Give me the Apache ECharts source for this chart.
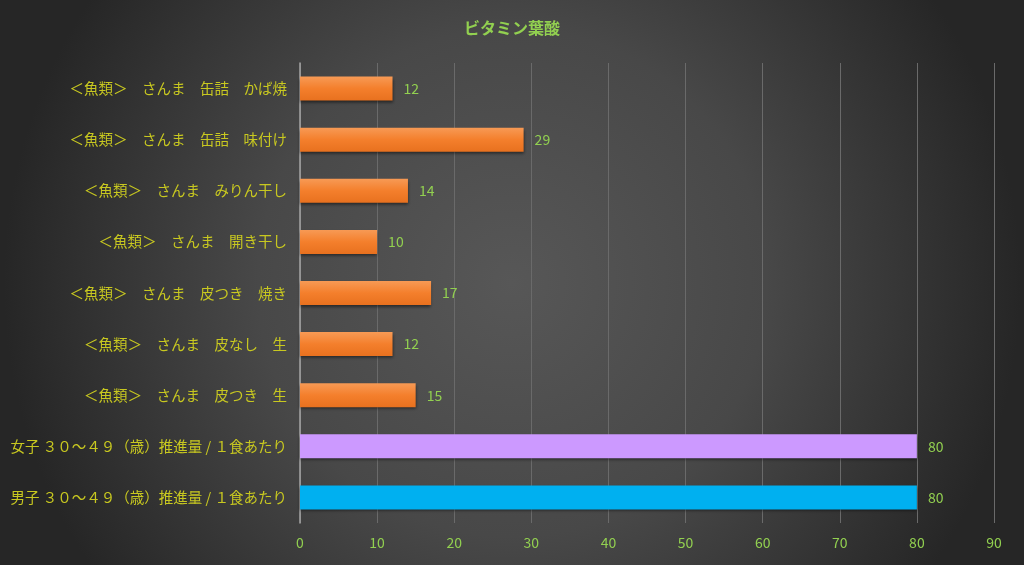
<!DOCTYPE html>
<html>
<head>
<meta charset="utf-8">
<script src="https://cdn.jsdelivr.net/npm/echarts@6/dist/echarts.min.js"></script>
<style>
  html, body { margin: 0; padding: 0; }
  #chart { width: 1024px; height: 565px; }
</style>
</head>
<body>
<div id="chart"></div>
<script>
// top to bottom
const categories = [
  '＜魚類＞　さんま　缶詰　かば焼',
  '＜魚類＞　さんま　缶詰　味付け',
  '＜魚類＞　さんま　みりん干し',
  '＜魚類＞　さんま　開き干し',
  '＜魚類＞　さんま　皮つき　焼き',
  '＜魚類＞　さんま　皮なし　生',
  '＜魚類＞　さんま　皮つき　生',
  '女子 ３０～４９（歳）推進量 / １食あたり',
  '男子 ３０～４９（歳）推進量 / １食あたり'
]
const values = [12, 29, 14, 10, 17, 12, 15, 80, 80]
const barColors = ['orange', 'orange', 'orange', 'orange', 'orange', 'orange', 'orange', '#cc99ff', '#00b0f0']

const orangeFill = new echarts.graphic.LinearGradient(0, 0, 0, 1, [
  { offset: 0, color: '#f79a55' },
  { offset: 0.5, color: '#f47f2c' },
  { offset: 1, color: '#e8711f' }
])

const chart = echarts.init(document.getElementById('chart'))
chart.setOption({
  backgroundColor: new echarts.graphic.RadialGradient(0.5, 0.5, 0.9, [
    { offset: 0, color: '#575757' },
    { offset: 0.5, color: '#484848' },
    { offset: 1, color: '#262626' }
  ]),
  textStyle: { fontFamily: 'Noto Sans CJK JP' },
  title: {
    text: 'ビタミン葉酸',
    left: 'center',
    top: 15,
    textStyle: {
      color: '#92d050',
      fontSize: 16,
      fontWeight: 'bold',
      fontFamily: 'Noto Sans CJK JP'
    }
  },
  grid: { left: 300, right: 30, top: 63, bottom: 42, containLabel: false },
  xAxis: {
    type: 'value',
    min: 0,
    max: 90,
    interval: 10,
    axisLine: { show: false },
    axisTick: { show: false },
    axisLabel: { color: '#92d050', fontSize: 14, margin: 13 },
    splitLine: { show: true, lineStyle: { color: '#6a6a6a', width: 1 } }
  },
  yAxis: {
    type: 'category',
    data: categories,
    inverse: true,
    axisLine: { show: true, lineStyle: { color: '#a6a6a6', width: 1.5 } },
    axisTick: { show: false },
    axisLabel: { color: '#c8c820', fontSize: 14.5, margin: 13 }
  },
  series: [{
    type: 'bar',
    barWidth: 24,
    data: values.map((v, i) => ({
      value: v,
      itemStyle: {
        color: barColors[i] === 'orange' ? orangeFill : barColors[i],
        shadowColor: 'rgba(0,0,0,0.5)',
        shadowBlur: 3,
        shadowOffsetY: 2
      }
    })),
    label: {
      show: true,
      position: 'right',
      distance: 11,
      color: '#92d050',
      fontSize: 14
    }
  }]
})
</script>
</body>
</html>
